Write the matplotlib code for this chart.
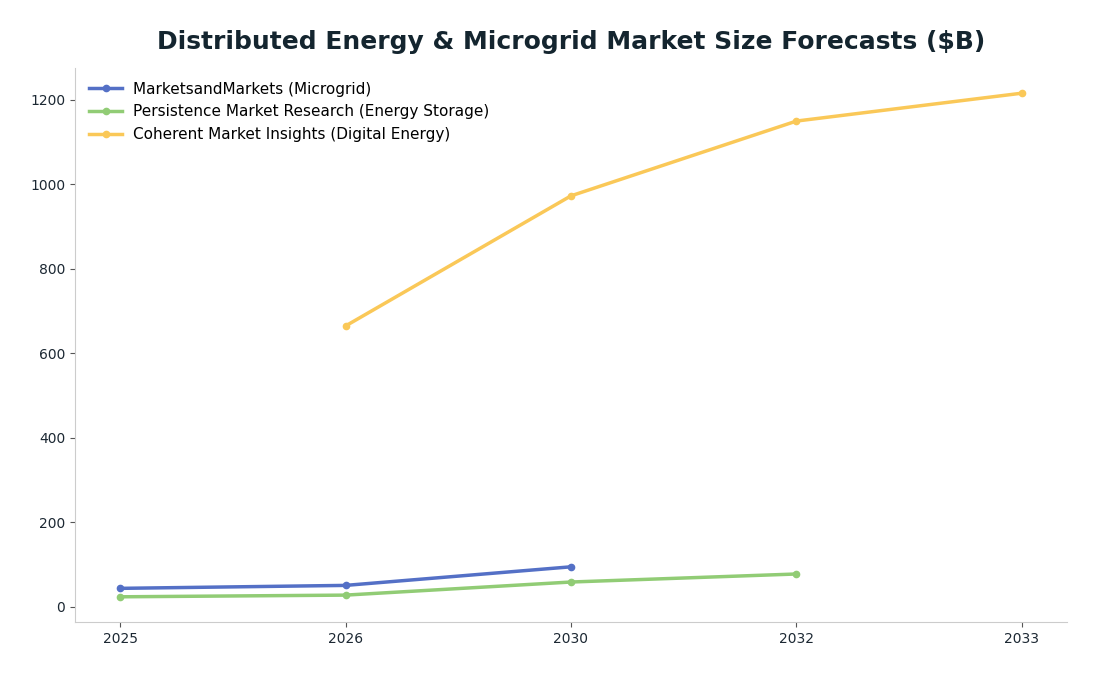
import matplotlib
matplotlib.use('Agg')
import matplotlib.pyplot as plt

years = ['2025', '2026', '2030', '2032', '2033']

microgrid_years = ['2025', '2026', '2030']
microgrid_vals = [44, 51, 95]

storage_years = ['2025', '2026', '2030', '2032']
storage_vals = [24, 28, 59, 78]

digital_years = ['2026', '2030', '2032', '2033']
digital_vals = [665, 973, 1150, 1216]

series_names = ['MarketsandMarkets (Microgrid)',
                'Persistence Market Research (Energy Storage)',
                'Coherent Market Insights (Digital Energy)']
colors = ['#5470c6', '#91cc75', '#fac858']

text_color = '#1c2833'

fig = plt.figure(figsize=(10.96, 6.76), dpi=100)
ax = fig.add_axes([0.0684, 0.0799, 0.9051, 0.8195])

idx = {y: i for i, y in enumerate(years)}
data = [(microgrid_years, microgrid_vals),
        (storage_years, storage_vals),
        (digital_years, digital_vals)]
for (xs, vals), name, c in zip(data, series_names, colors):
    ax.plot([idx[x] for x in xs], vals, color=c, linewidth=2.5,
            marker='o', markersize=4.5, label=name)

ax.set_xticks(range(len(years)))
ax.set_xticklabels(years)
ax.set_xlim(-0.2, len(years) - 0.8)
ax.set_yticks([0, 200, 400, 600, 800, 1000, 1200])

for s in ['top', 'right']:
    ax.spines[s].set_visible(False)
for s in ['left', 'bottom']:
    ax.spines[s].set_color('#cccccc')
ax.tick_params(colors=text_color, labelsize=10)
ax.tick_params(axis='both', color='#555555')

ax.legend(loc='upper left', frameon=False, fontsize=11,
          handlelength=2.2, borderaxespad=0.5, labelspacing=0.5,
          handletextpad=0.7)

fig.suptitle('Distributed Energy & Microgrid Market Size Forecasts ($B)',
             fontsize=18, fontweight='bold', color='#14252f', x=0.521, y=0.956)

fig.savefig('out.png', dpi=100)
